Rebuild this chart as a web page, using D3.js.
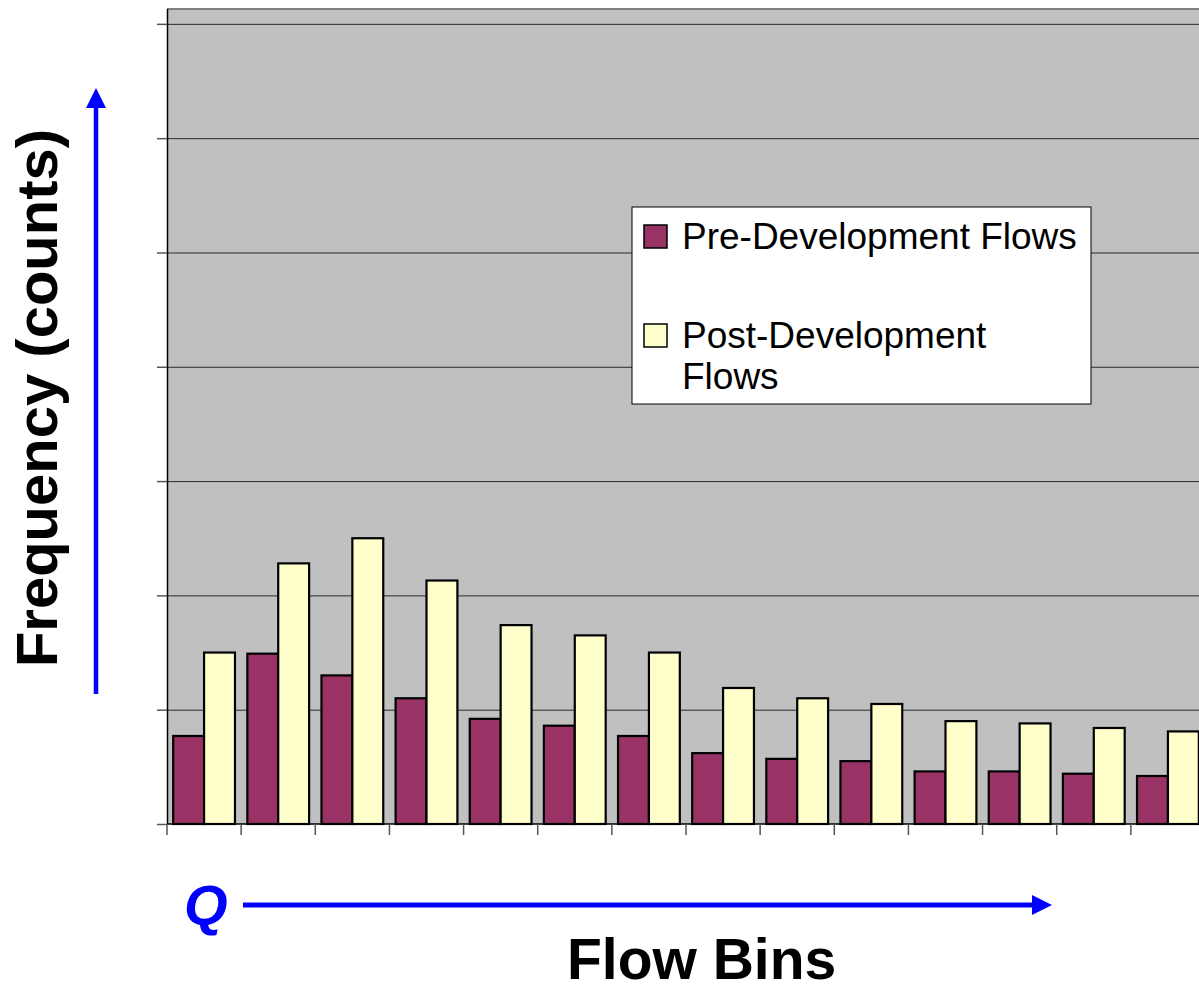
<!doctype html>
<html lang="en">
<head>
  <meta charset="utf-8">
  <title>Flow Bins histogram</title>
  <script src="https://d3js.org/d3.v7.min.js"></script>
  <style>
  body { margin: 0; background: #fff; }
  svg { display: block; font-family: "Liberation Sans", Arial, sans-serif; }
  .grid line { stroke: #2a2a2a; stroke-width: 1; }
  .bar { stroke: #000; stroke-width: 2.2; }
  </style>
</head>
<body>
<script>
  // bins (no labels shown on the original, just tick marks)
  var bins = ["1", "2", "3", "4", "5", "6", "7", "8", "9", "10", "11", "12", "13", "14"];
  var seriesNames = ["Pre-Development Flows", "Post-Development Flows"];
  // one gridline = 10 counts
  var preFlows  = [7.7, 14.9, 13.0, 11.0, 9.2, 8.6, 7.7, 6.2, 5.7, 5.5, 4.6, 4.6, 4.4, 4.2];
  var postFlows = [15.0, 22.8, 25.0, 21.3, 17.4, 16.5, 15.0, 11.9, 11.0, 10.5, 9.0, 8.8, 8.4, 8.1];
  var yTicks = [0, 10, 20, 30, 40, 50, 60, 70];
  var colors = ["#993366", "#ffffcc"];

  var W = 1199, H = 992;
  var margin = {top: 9, left: 167},
      width = 1038,   // runs past the right edge like the original
      height = 815;

  var svg = d3.select("body").append("svg")
      .attr("width", W)
      .attr("height", H);

  var g = svg.append("g")
      .attr("transform", "translate(" + margin.left + "," + margin.top + ")");

  // scales
  var x0 = d3.scaleBand().domain(bins).range([0, width]).padding(0);
  var x1 = d3.scaleBand().domain(seriesNames).range([0, x0.bandwidth()])
      .paddingInner(0).paddingOuter(0.2);
  var y = d3.scaleLinear().domain([0, 71.3]).range([height, 0]);

  // plot area
  g.append("rect")
      .attr("x", 0).attr("y", 0)
      .attr("width", width).attr("height", height)
      .attr("fill", "#c0c0c0");
  g.append("line")
      .attr("x1", 0).attr("x2", width)
      .attr("y1", 0).attr("y2", 0)
      .attr("stroke", "#808080").attr("stroke-width", 2);

  // gridlines
  g.append("g").attr("class", "grid")
    .selectAll("line")
    .data(yTicks.slice(1))
    .enter().append("line")
      .attr("x1", 0).attr("x2", width)
      .attr("y1", function(d) { return y(d) + 0.5; })
      .attr("y2", function(d) { return y(d) + 0.5; });

  // bars
  var rows = bins.map(function(b, i) {
    return {bin: b, values: [preFlows[i], postFlows[i]]};
  });
  var grp = g.selectAll(".bin")
      .data(rows)
    .enter().append("g")
      .attr("class", "bin")
      .attr("transform", function(d) { return "translate(" + x0(d.bin) + ",0)"; });
  grp.selectAll("rect")
      .data(function(d) { return d.values.map(function(v, k) { return {name: seriesNames[k], v: v, k: k}; }); })
    .enter().append("rect")
      .attr("class", "bar")
      .attr("x", function(d) { return x1(d.name); })
      .attr("width", x1.bandwidth())
      .attr("y", function(d) { return y(d.v); })
      .attr("height", function(d) { return y(0) - y(d.v); })
      .attr("fill", function(d) { return colors[d.k]; });

  // y axis: ticks only, no labels
  var yAxis = g.append("g")
      .call(d3.axisLeft(y).tickValues(yTicks).tickSize(10).tickFormat(""));
  yAxis.select(".domain").attr("stroke", "#000").attr("stroke-width", 1.5)
      .attr("d", "M0.5," + height + "V0");
  yAxis.selectAll(".tick line").attr("stroke", "#555").attr("stroke-width", 1.5);

  // x axis: tick marks at the bin edges
  var xAxis = g.append("g")
      .attr("transform", "translate(0," + height + ")");
  xAxis.append("line")
      .attr("x1", 0).attr("x2", width)
      .attr("y1", 0).attr("y2", 0)
      .attr("stroke", "#000").attr("stroke-width", 1.5);
  xAxis.selectAll(".xtick")
      .data(bins)
    .enter().append("line")
      .attr("class", "xtick")
      .attr("x1", function(d) { return x0(d); })
      .attr("x2", function(d) { return x0(d); })
      .attr("y1", 0).attr("y2", 11)
      .attr("stroke", "#555").attr("stroke-width", 1.5);

  // legend
  var leg = svg.append("g").attr("transform", "translate(632,207)");
  leg.append("rect")
      .attr("width", 459).attr("height", 197)
      .attr("fill", "#fff").attr("stroke", "#000").attr("stroke-width", 1);
  var legRows = [
    {lines: ["Pre-Development Flows"], y: 18},
    {lines: ["Post-Development", "Flows"], y: 117}
  ];
  legRows.forEach(function(r, k) {
    leg.append("rect")
        .attr("x", 12).attr("y", r.y)
        .attr("width", 23).attr("height", 23)
        .attr("fill", colors[k]).attr("stroke", "#000").attr("stroke-width", 1.5);
    var t = leg.append("text")
        .attr("x", 50).attr("y", r.y + 24)
        .attr("font-size", 37).attr("fill", "#000");
    r.lines.forEach(function(s, j) {
      t.append("tspan").attr("x", 50).attr("dy", j === 0 ? 0 : 41).text(s);
    });
  });

  // arrows
  var defs = svg.append("defs");
  defs.append("marker")
      .attr("id", "head")
      .attr("viewBox", "0 0 10 10")
      .attr("refX", 1).attr("refY", 5)
      .attr("markerUnits", "userSpaceOnUse")
      .attr("markerWidth", 22).attr("markerHeight", 20)
      .attr("orient", "auto")
    .append("path")
      .attr("d", "M0,0L10,5L0,10Z")
      .attr("fill", "#0000ff");

  svg.append("line")
      .attr("x1", 96).attr("y1", 694)
      .attr("x2", 96).attr("y2", 106)
      .attr("stroke", "#0000ff").attr("stroke-width", 4.5)
      .attr("marker-end", "url(#head)");
  svg.append("line")
      .attr("x1", 243).attr("y1", 905)
      .attr("x2", 1034).attr("y2", 905)
      .attr("stroke", "#0000ff").attr("stroke-width", 5)
      .attr("marker-end", "url(#head)");

  // axis titles
  svg.append("text")
      .attr("transform", "translate(57,398) rotate(-90)")
      .attr("text-anchor", "middle")
      .attr("font-size", 58).attr("font-weight", "bold")
      .text("Frequency (counts)");
  svg.append("text")
      .attr("x", 184).attr("y", 924)
      .attr("font-size", 56).attr("font-weight", "bold").attr("font-style", "italic")
      .attr("fill", "#0000ff")
      .text("Q");
  svg.append("text")
      .attr("x", 567).attr("y", 979)
      .attr("font-size", 57).attr("font-weight", "bold")
      .text("Flow Bins");
</script>
</body>
</html>
